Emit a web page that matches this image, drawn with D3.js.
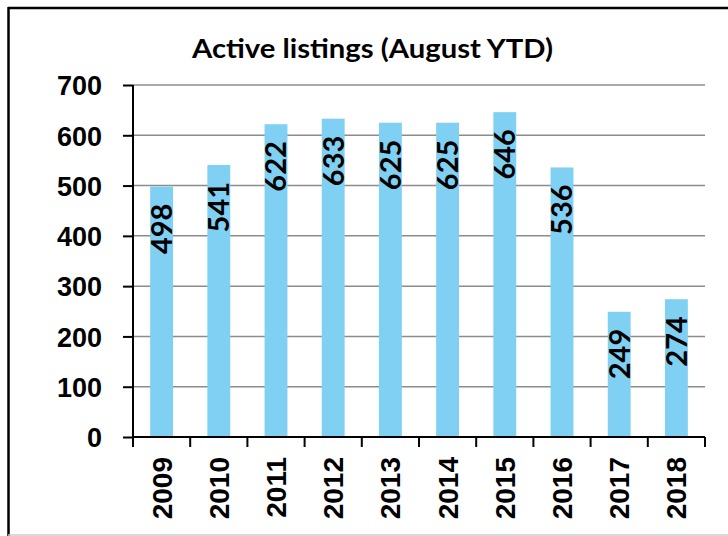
<!DOCTYPE html>
<html>
<head>
<meta charset="utf-8">
<script src="https://cdn.jsdelivr.net/npm/d3@7"></script>
<style>
  html, body { margin: 0; padding: 0; background: #fff; }
  #chart { width: 728px; height: 536px; }
</style>
</head>
<body>
<div id="chart"></div>
<script>
// Active listings (August YTD)
const years  = ["2009", "2010", "2011", "2012", "2013", "2014", "2015", "2016", "2017", "2018"];
const values = [498, 541, 622, 633, 625, 625, 646, 536, 249, 274];
const yTicks = [0, 100, 200, 300, 400, 500, 600, 700];
const TITLE  = "Active listings (August YTD)";

const width = 728, height = 536;
const margin = { top: 85, right: 23, bottom: 99, left: 133 };

const svg = d3.select("#chart").append("svg")
  .attr("width", width)
  .attr("height", height);

// khung ngoài
svg.append("line").attr("x1", 8).attr("x2", width).attr("y1", 8).attr("y2", 8)
  .attr("stroke", "#000").attr("stroke-width", 2.5);
svg.append("line").attr("x1", 8.5).attr("x2", 8.5).attr("y1", 7).attr("y2", height)
  .attr("stroke", "#000").attr("stroke-width", 2.5);
svg.append("line").attr("x1", 8).attr("x2", width).attr("y1", 535).attr("y2", 535)
  .attr("stroke", "#ccc").attr("stroke-width", 1.5);

const x = d3.scaleBand()
  .domain(years)
  .range([margin.left, width - margin.right])
  .paddingInner(0.6)
  .paddingOuter(0.3);

const y = d3.scaleLinear()
  .domain([0, 700])
  .range([height - margin.bottom, margin.top]);

// tiêu đề (kiểu Calibri: chữ hẹp, nén lại bằng textLength)
svg.append("text")
  .attr("x", 192).attr("y", 58)
  .attr("font-family", "Lato, 'Open Sans', sans-serif")
  .attr("font-weight", "bold")
  .attr("font-size", 27)
  .attr("textLength", 361)
  .attr("lengthAdjust", "spacingAndGlyphs")
  .attr("fill", "#000")
  .text(TITLE);

// grid ngang
svg.append("g")
  .selectAll("line")
  .data(yTicks.filter(d => d > 0))
  .join("line")
  .attr("x1", margin.left).attr("x2", width - margin.right)
  .attr("y1", d => y(d)).attr("y2", d => y(d))
  .attr("stroke", "#8c8c8c").attr("stroke-width", 1.5);

// cột
svg.append("g")
  .selectAll("rect")
  .data(values)
  .join("rect")
  .attr("x", (d, i) => x(years[i]))
  .attr("y", d => y(d))
  .attr("width", x.bandwidth())
  .attr("height", d => y(0) - y(d))
  .attr("fill", "#7fd0f2");

// trục Y
svg.append("g")
  .attr("transform", `translate(${margin.left},0)`)
  .call(d3.axisLeft(y).tickValues(yTicks).tickSize(10).tickPadding(21))
  .call(g => g.selectAll("path, line").attr("stroke", "#000").attr("stroke-width", 2))
  .call(g => g.select(".domain").attr("d", `M0,${y(700)}V${y(0)}`))
  .call(g => g.selectAll("text")
    .attr("font-family", "'Liberation Sans', Arial, sans-serif")
    .attr("font-weight", "bold")
    .attr("font-size", 27)
    .attr("fill", "#000")
    .attr("dy", "0.36em"));

// trục X: vạch ở ranh giới các nhóm
const xAxis = svg.append("g");
const step = x.step();
const x0 = margin.left;
xAxis.append("line")
  .attr("x1", x0).attr("x2", width - margin.right)
  .attr("y1", y(0)).attr("y2", y(0))
  .attr("stroke", "#000").attr("stroke-width", 2);
xAxis.selectAll("line.tick")
  .data(d3.range(years.length + 1))
  .join("line")
  .attr("class", "tick")
  .attr("x1", i => x0 + i * step).attr("x2", i => x0 + i * step)
  .attr("y1", y(0)).attr("y2", y(0) + 10)
  .attr("stroke", "#000").attr("stroke-width", 2);
xAxis.selectAll("text")
  .data(years)
  .join("text")
  .attr("transform", d => `translate(${x(d) + x.bandwidth() / 2},${y(0) + 20}) rotate(-90)`)
  .attr("text-anchor", "end")
  .attr("dy", "0.36em")
  .attr("font-family", "'Liberation Sans', Arial, sans-serif")
  .attr("font-weight", "bold")
  .attr("font-size", 28)
  .attr("fill", "#000")
  .text(d => d);

// nhãn giá trị trong cột
svg.append("g")
  .selectAll("text")
  .data(values)
  .join("text")
  .attr("transform", (d, i) => `translate(${x(years[i]) + x.bandwidth() / 2},${y(d) + 17}) rotate(-90)`)
  .attr("text-anchor", "end")
  .attr("dy", "0.36em")
  .attr("font-family", "Lato, 'Open Sans', sans-serif")
  .attr("font-weight", "bold")
  .attr("font-size", 29)
  .attr("fill", "#000")
  .text(d => d);
</script>
</body>
</html>
